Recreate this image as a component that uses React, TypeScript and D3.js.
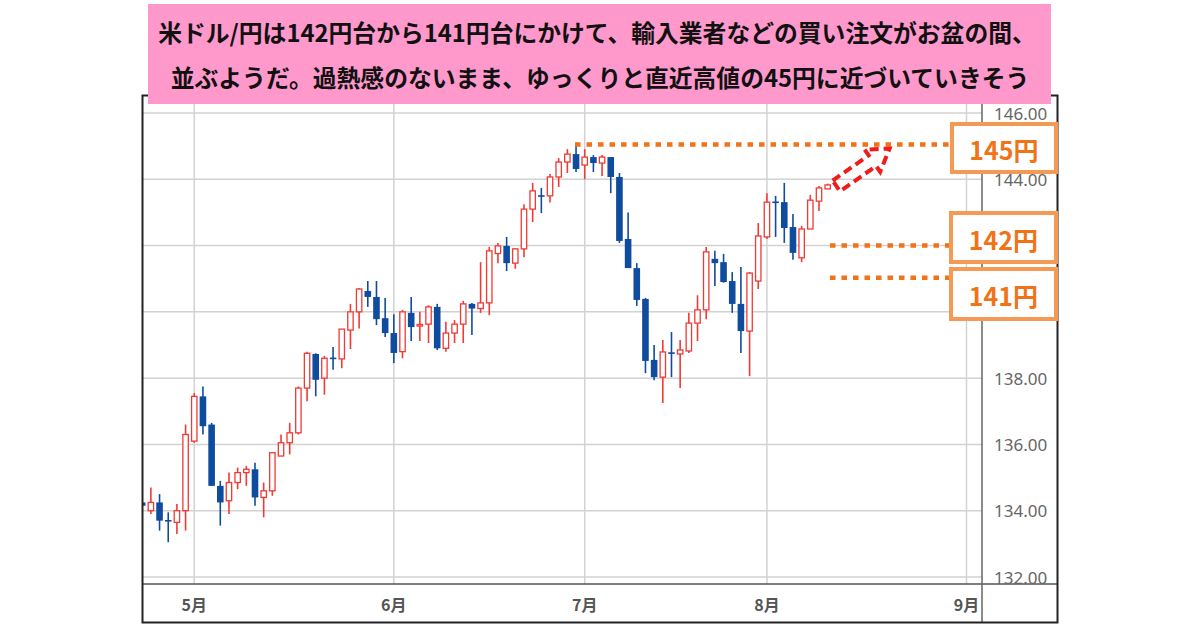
import React from "react";
import * as d3 from "d3";

// ---- Data (USD/JPY daily) ----
const openP = [
  134.25, 134.0, 134.25, 133.72, 133.65, 134.0, 136.1, 137.45, 136.6, 134.75,
  134.3, 134.85, 135.15, 135.25, 134.4, 134.6, 135.65, 136.05, 136.35, 137.7,
  138.73, 138.0, 138.62, 138.58, 139.45, 140.0, 140.63, 140.45, 139.81, 139.36,
  138.8, 139.97, 139.58, 139.63, 140.15, 138.9, 139.36, 139.63, 140.24, 140.1,
  140.27, 141.76, 141.99, 141.47, 141.9, 143.1, 143.52, 143.5, 144.07, 144.52,
  144.76, 144.43, 144.67, 144.49, 144.67, 144.07, 142.2, 141.32, 140.39, 138.55,
  138.03, 138.78, 138.73, 138.82, 139.66, 140.06, 141.6, 141.5, 140.93, 140.24,
  139.42, 140.93, 142.26, 143.33, 143.31, 142.56, 141.63, 142.5, 143.34, 143.71,
];
const highP = [
  134.4, 134.7, 134.5, 133.95, 134.2, 136.6, 137.55, 137.75, 136.65, 134.9,
  135.15, 135.3, 135.35, 135.45, 134.85, 135.75, 136.3, 136.65, 137.75, 138.8,
  138.75, 138.67, 138.94, 139.48, 140.24, 140.72, 140.93, 140.93, 140.42, 139.93,
  140.06, 140.45, 140.0, 140.2, 140.24, 139.7, 139.75, 140.33, 140.27, 141.5,
  141.96, 142.08, 142.26, 141.92, 143.25, 143.89, 143.74, 144.16, 144.64, 144.91,
  145.1, 144.91, 144.73, 144.73, 144.67, 144.19, 143.0, 141.47, 140.42, 139.0,
  139.15, 139.39, 139.15, 139.97, 140.5, 141.96, 141.84, 141.75, 141.2, 141.35,
  141.2, 142.68, 143.58, 143.5, 143.89, 142.95, 142.59, 143.53, 143.8, 143.87,
];
const lowP = [
  134.1, 133.9, 133.4, 133.05, 133.3, 133.4, 136.05, 136.3, 134.75, 133.55,
  133.9, 134.65, 134.75, 134.15, 133.8, 134.45, 135.65, 135.7, 136.3, 137.3,
  137.45, 137.5, 138.25, 138.3, 138.88, 139.5, 140.15, 139.6, 139.24, 138.46,
  138.6, 139.12, 139.12, 139.06, 138.85, 138.8, 139.06, 139.06, 139.3, 139.97,
  139.9, 141.47, 141.23, 141.3, 141.65, 142.71, 142.98, 143.3, 143.77, 144.19,
  144.22, 144.0, 144.22, 144.1, 143.58, 142.08, 141.32, 140.18, 138.15, 137.94,
  137.25, 138.03, 137.7, 138.76, 139.12, 139.78, 140.78, 140.88, 139.97, 138.76,
  138.06, 140.69, 142.2, 142.26, 142.08, 141.57, 141.5, 142.5, 143.04, 143.7,
];
const closeP = [
  134.15, 134.25, 133.7, 133.68, 134.0, 136.3, 137.45, 136.55, 134.75, 134.25,
  134.85, 135.15, 135.25, 134.4, 134.6, 135.75, 136.05, 136.35, 137.7, 138.75,
  137.95, 138.6, 138.58, 139.48, 140.0, 140.69, 140.45, 139.78, 139.36, 138.76,
  140.0, 139.54, 139.62, 140.15, 138.9, 139.36, 139.63, 140.24, 140.1, 140.27,
  141.84, 141.99, 141.47, 141.9, 143.1, 143.65, 143.48, 144.07, 144.52, 144.76,
  144.31, 144.67, 144.49, 144.67, 144.07, 142.14, 141.32, 140.36, 138.52, 138.03,
  138.79, 138.74, 138.85, 139.66, 140.06, 141.81, 141.47, 140.9, 140.24, 139.42,
  141.17, 142.29, 143.31, 143.29, 142.53, 141.78, 142.5, 143.37, 143.74, 143.83,
];

const yTicks = [132, 134, 136, 138, 140, 142, 144, 146];
const monthLabels = ["5月", "6月", "7月", "8月", "9月"];
const monthNumbers = [4, 5, 6, 7, 8]; // UTC month index

const levelLabels = ["145円", "142円", "141円"];
const levelPrices = [145.05, 142.0, 141.03];

const titleLines = [
  "米ドル/円は142円台から141円台にかけて、輸入業者などの買い注文がお盆の間、",
  "並ぶようだ。過熱感のないまま、ゆっくりと直近高値の45円に近づいていきそう",
];

// trading days (weekdays) from 2023-04-21 to 2023-09-01
const tradingDays = d3
  .utcDays(new Date(Date.UTC(2023, 3, 21)), new Date(Date.UTC(2023, 8, 2)))
  .filter((d) => d.getUTCDay() !== 0 && d.getUTCDay() !== 6);

const RED = "#f03a34";
const BLUE = "#0f4c9e";
const ORANGE = "#f07318";
const BOX_BORDER = "#f59a55";

export default function App() {
  const plotL = 143;
  const plotR = 982;
  const plotT = 96;
  const plotB = 584;

  const x = d3.scaleLinear().domain([0, tradingDays.length - 1]).range([142.2, 966.5]);
  const y = d3.scaleLinear().domain([132, 146]).range([577, 113]);

  const monthIdx = monthNumbers.map((m) => tradingDays.findIndex((d) => d.getUTCMonth() === m));

  const bodyW = 6.6;
  const candles = openP.map((o, i) => ({
    i,
    o,
    h: highP[i],
    l: lowP[i],
    c: closeP[i],
    up: closeP[i] >= o,
  }));

  const jp = "'Noto Sans CJK JP', 'Noto Sans', sans-serif";

  // arrow shape (local coords)
  const arrowLen = 65;
  const shaftHalf = 6.5;
  const headHalf = 13.5;
  const headLen = 21;
  const arrowPts: [number, number][] = [
    [0, -shaftHalf],
    [arrowLen - headLen, -shaftHalf],
    [arrowLen - headLen, -headHalf],
    [arrowLen, 0],
    [arrowLen - headLen, headHalf],
    [arrowLen - headLen, shaftHalf],
    [0, shaftHalf],
  ];
  const arrowLine = d3.line().curve(d3.curveLinearClosed)(arrowPts) || "";
  const arrowStart = { i: 80.0, p: 143.8 };

  const boxes = [
    { label: levelLabels[0], x: 952, y: 124, w: 104, h: 48 },
    { label: levelLabels[1], x: 951, y: 213, w: 105, h: 49 },
    { label: levelLabels[2], x: 951, y: 269, w: 105, h: 50 },
  ];
  const levelStarts = [x(50) - 1, 830, 830];

  return (
    <svg
      width={1200}
      height={630}
      viewBox="0 0 1200 630"
      style={{ position: "absolute", left: 0, top: 0, display: "block", background: "#fff" }}
    >
      <defs>
        <clipPath id="plotClip">
          <rect x={plotL} y={plotT} width={plotR - plotL} height={plotB - plotT} />
        </clipPath>
      </defs>
      <rect x={0} y={0} width={1200} height={630} fill="#fff" />

      {/* grid */}
      <g stroke="#d2d2d2" strokeWidth={1.5}>
        {yTicks.map((t) => (
          <line key={t} x1={plotL} x2={plotR} y1={y(t)} y2={y(t)} />
        ))}
        {monthIdx.map((mi, k) => (
          <line key={k} x1={x(mi)} x2={x(mi)} y1={plotT} y2={plotB} />
        ))}
      </g>

      {/* axes lines */}
      <line x1={142} x2={1058} y1={plotB} y2={plotB} stroke="#555" strokeWidth={1.5} />
      <line x1={plotR} x2={plotR} y1={95} y2={623} stroke="#666" strokeWidth={1.5} />

      {/* y labels */}
      <g fontFamily="'Noto Sans', sans-serif" fontSize={17} fill="#666">
        {yTicks.map((t) => (
          <text key={t} x={994} y={y(t)} dominantBaseline="central">
            {t.toFixed(2)}
          </text>
        ))}
      </g>

      {/* month labels */}
      <g fontFamily={jp} fontSize={16} fontWeight={700} fill="#555" textAnchor="middle">
        {monthIdx.map((mi, k) => (
          <text key={k} x={x(mi)} y={604} dominantBaseline="central">
            {monthLabels[k]}
          </text>
        ))}
      </g>

      {/* candles */}
      <g clipPath="url(#plotClip)">
        {candles.map((d) => {
          const cx = x(d.i);
          const top = y(Math.max(d.o, d.c));
          const bot = y(Math.min(d.o, d.c));
          const col = d.up ? RED : BLUE;
          const bh = Math.max(bot - top, 1.6);
          return (
            <g key={d.i}>
              <line x1={cx} x2={cx} y1={y(d.h)} y2={y(d.l)} stroke={col} strokeWidth={1.6} />
              {d.up ? (
                <rect
                  x={cx - bodyW / 2 + 0.6}
                  y={top}
                  width={bodyW - 1.2}
                  height={bh}
                  fill="#fff"
                  stroke={col}
                  strokeWidth={1.3}
                />
              ) : (
                <rect x={cx - bodyW / 2} y={top} width={bodyW} height={bh} fill={col} />
              )}
            </g>
          );
        })}
      </g>

      {/* level dotted lines */}
      <g stroke={ORANGE} strokeWidth={4.5} strokeDasharray="5.5 6">
        {levelPrices.map((p, k) => (
          <line key={k} x1={levelStarts[k]} x2={950} y1={y(p)} y2={y(p)} />
        ))}
      </g>

      {/* arrow */}
      <path
        d={arrowLine}
        transform={`translate(${x(arrowStart.i)},${y(arrowStart.p)}) rotate(-35)`}
        fill="none"
        stroke="#ee1c1c"
        strokeWidth={4}
        strokeDasharray="9 5"
        strokeLinejoin="miter"
      />

      {/* outer frame */}
      <rect x={142.5} y={95.5} width={915} height={527} fill="none" stroke="#222" strokeWidth={2} />

      {/* level boxes */}
      {boxes.map((b, k) => (
        <g key={k}>
          <rect x={b.x} y={b.y} width={b.w} height={b.h} fill="#fff" stroke={BOX_BORDER} strokeWidth={4} />
          <text
            x={b.x + b.w / 2}
            y={b.y + b.h / 2 + 1}
            textAnchor="middle"
            dominantBaseline="central"
            fontFamily={jp}
            fontWeight={700}
            fontSize={25}
            fill={ORANGE}
          >
            {b.label}
          </text>
        </g>
      ))}

      {/* title box */}
      <rect x={148} y={4} width={903} height={100} fill="#ff99cc" />
      <g fontFamily={jp} fontWeight={700} fontSize={23.8} fill="#111" textAnchor="middle">
        <text x={597} y={31} dominantBaseline="central">
          {titleLines[0]}
        </text>
        <text x={600} y={76} dominantBaseline="central">
          {titleLines[1]}
        </text>
      </g>
    </svg>
  );
}
